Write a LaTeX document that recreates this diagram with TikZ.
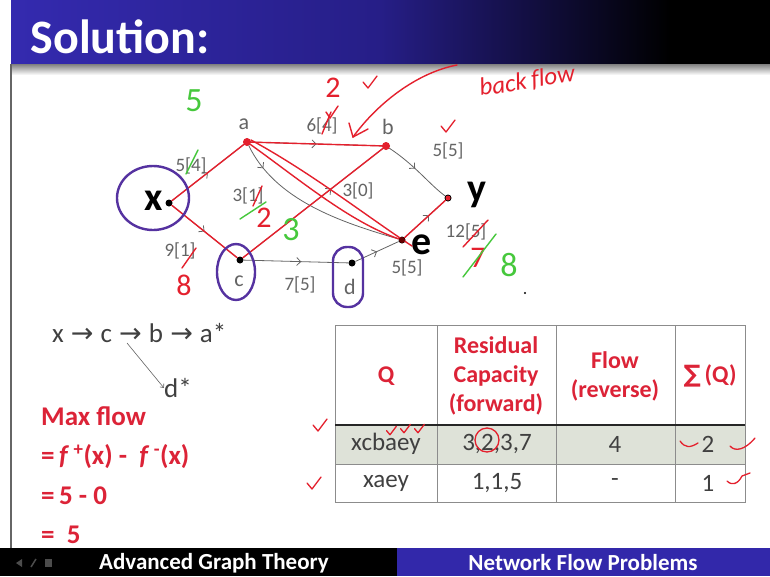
\documentclass[tikz,border=0pt]{standalone}
\usepackage{fontspec}
\setmainfont{Carlito}
\newfontfamily\symfont{DejaVu Sans}
\newfontfamily\handfont[Ligatures=NoCommon]{Carlito}
\usetikzlibrary{decorations.markings,arrows.meta,calc}
\definecolor{hblue}{RGB}{52,42,175}
\definecolor{hmid}{RGB}{38,30,135}
\definecolor{fblue}{RGB}{50,40,170}
\definecolor{ered}{RGB}{228,32,45}
\definecolor{tred}{RGB}{220,35,55}
\definecolor{egreen}{RGB}{70,200,60}
\definecolor{epurple}{RGB}{85,50,160}
\definecolor{egrey}{RGB}{100,100,100}
\definecolor{txtgrey}{RGB}{64,64,64}
\definecolor{rowbg}{RGB}{222,226,216}
\tikzset{
  vdot/.style={circle,fill=black,inner sep=0pt,minimum size=7pt},
  rdot/.style={circle,fill=ered,inner sep=0pt,minimum size=8pt},
  glabel/.style={font=\fontsize{19}{19}\selectfont, text=egrey, inner sep=0pt},
  vname/.style={font=\fontsize{22}{22}\selectfont, text=egrey, inner sep=0pt},
  bigname/.style={font=\fontsize{40}{40}\selectfont\bfseries, text=black, inner sep=0pt},
  gedge/.style={draw=egrey, line width=0.8pt, decoration={markings, mark=at position #1 with {\arrow{Straight Barb[length=4pt,width=8pt]}}}, postaction={decorate}},
  gedge/.default=0.5,
  rline/.style={draw=ered, line width=1.4pt, line cap=round},
  gline/.style={draw=egreen, line width=1.4pt, line cap=round},
  hred/.style={text=ered, font=\fontsize{30}{30}\selectfont, inner sep=0pt},
  hgreen/.style={text=egreen, font=\fontsize{34}{34}\selectfont, inner sep=0pt},
  bfl/.style={text=ered, font=\handfont\fontsize{25}{25}\selectfont\itshape, rotate=8, inner sep=0pt},
  purp/.style={draw=epurple, line width=2.4pt},
  chk/.pic={\draw[ered,line width=1.3pt,line cap=round,line join=round] (-5,-2) -- (0,4) -- (9,-8);},
  thead/.style={text=tred, font=\fontsize{24}{29}\selectfont\bfseries, align=center, inner sep=0pt},
  tcell/.style={text=txtgrey, font=\fontsize{25}{25}\selectfont, inner sep=0pt},
  redtxt/.style={text=tred, font=\fontsize{27}{27}\selectfont\bfseries, anchor=west, inner sep=0pt},
  foot/.style={text=white, font=\fontsize{23}{23}\selectfont\bfseries, inner sep=0pt}
}
\newcommand\myarr{{\symfont\fontsize{27}{27}\selectfont\hspace{1pt}→\hspace{1pt}}}
\begin{document}
\begin{tikzpicture}[x=1pt,y=-1pt]
\useasboundingbox (0,0) rectangle (770,576);
\fill[white] (0,0) rectangle (770,576);
% header
\shade[left color=hblue, right color=hmid] (11,0) rectangle (380,64);
\shade[left color=hmid, right color=black] (380,0) rectangle (670,64);
\fill[black] (670,0) rectangle (770,64);
\node[anchor=west, text=white, font=\fontsize{48}{48}\selectfont\bfseries] (title) at (27,37) {Solution:};
\shade[top color=black!50, bottom color=white] (11,64) rectangle (770,75);
\draw[black!60, line width=1.2pt] (11,64) -- (11,548);
% footer
\fill[black] (0,548) rectangle (397,576);
\fill[fblue] (397,548) rectangle (770,576);
\node[foot] (f1) at (214,563) {Advanced Graph Theory};
\node[foot] (f2) at (583,563) {Network Flow Problems};
\fill[black!70] (16,563) -- (22,559) -- (22,567) -- cycle;
\draw[black!70, line width=1.5pt] (31,567) -- (36,559);
\fill[black!70] (45,559) rectangle (52,567);

% vertices
\node[vdot] (x) at (169,203) {};
\node[vdot] (a) at (247,142) {};
\node[vdot] (b) at (386,146) {};
\node[vdot] (y) at (448,198) {};
\node[vdot] (c) at (240,260) {};
\node[vdot] (d) at (352,263) {};
\node[vdot] (e) at (402,240) {};

% grey edges
\path[gedge] (x) -- (a);
\path[gedge] (x) -- (c);
\path[gedge] (a) -- (b);
\path[gedge=0.15] (a) .. controls (275,200) and (340,222) .. (e);
\path[gedge=0.63] (c) -- (b);
\path[gedge=0.45] (b) .. controls (415,165) and (430,185) .. (y);
\path[gedge=0.55] (c) -- (d);
\path[gedge] (d) -- (e);
\path[gedge=0.6] (e) -- (y);

% vertex names
\node[bigname] (xl) at (154,201) {x};
\node[vname] (al) at (244,124) {a};
\node[vname] (bl) at (388,127) {b};
\node[bigname] (yl) at (477,195) {y};
\node[vname] (cl) at (239,281) {c};
\node[vname] (dl) at (350,287) {d};
\node[bigname] (el) at (422,245) {e};

% edge labels
\node[glabel] (lxa) at (191,166) {5[4]};
\node[glabel] (lxc) at (180,251) {9[1]};
\node[glabel] (lab) at (322,126) {6[4]};
\node[glabel] (lae) at (248,196) {3[1]};
\node[glabel] (lcb) at (358,191) {3[0]};
\node[glabel] (lby) at (448,151) {5[5]};
\node[glabel] (lcd) at (300,285) {7[5]};
\node[glabel] (lde) at (407,268) {5[5]};
\node[glabel] (ley) at (466,232) {12[5]};

% red flow overlay
\draw[rline] (x) -- (a);
\draw[rline] (x) -- (c);
\draw[rline] (a) -- (b);
\draw[rline] (c) -- (b);
\draw[rline] (a) .. controls (300,180) and (350,222) .. (e);
\draw[rline] ($(a)+(4,-2)$) .. controls (310,172) and (365,215) .. ($(e)+(10,6)$);
\draw[rline] (e) -- (y);
\node[rdot] (ra) at (a) {};
\node[rdot] (rb) at (b) {};
\node[circle,fill=ered,inner sep=0pt,minimum size=5pt] (ry) at (y) {};
\node[circle,fill=red!40!black,inner sep=0pt,minimum size=6pt] (re) at (e) {};

% purple circles
\draw[purp] (153,198) ellipse [x radius=36, y radius=32];
\draw[purp] (236,272) ellipse [x radius=19, y radius=28];
\draw[purp, rounded corners=14] (333,247) rectangle (363,307);

% annotations
\node[hgreen] (g5) at (194,101) {5};
\draw[gline] (186,174) -- (198,150);
\node[hred] (r2a) at (333,88) {2};
\draw[rline] (322,134) -- (331,112);
\draw[rline] (326,112) -- (330,118) -- (338,106);
\pic at (368,84) {chk};
\draw[rline] (457,65) .. controls (420,72) and (380,100) .. (353,137);
\draw[rline] (349,123) -- (353,137) -- (368,129);
\node[bfl] (bf1) at (503,84) {back};
\node[bfl] (bf2) at (553,77) {flow};
\pic at (446,128) {chk};
\draw[rline] (253,206) -- (262,186);
\draw[gline] (240,219) -- (266,202);
\node[hred] (r2b) at (264,218) {2};
\node[hgreen] (g3) at (291,230) {3};
\draw[rline] (182,268) -- (196,248);
\node[hred] (r8) at (184,285) {8};
\draw[rline] (463,247) -- (488,220);
\node[hred] (r7) at (478,258) {7};
\draw[gline] (463,277) -- (496,234);
\node[hgreen] (g8) at (509,265) {8};
\fill[black] (525,293) circle (1.2);

% path text
\node[anchor=west, text=txtgrey, font=\fontsize{27}{27}\selectfont, inner sep=0pt] (pth) at (52,333)
  {x \myarr{} c \myarr{} b \myarr{} a*};
\coordinate (ps) at (127,343);
\node[text=txtgrey, font=\fontsize{27}{27}\selectfont, inner sep=0pt] (dstar) at (178,388) {d*};
\draw[egrey, line width=0.6pt, -{Straight Barb[length=3pt,width=5pt]}] (ps) -- (dstar.west);

\node[redtxt] (mf) at (41,416) {Max flow};
\node[redtxt] (m1) at (41,457) {=\,\textit{f}\,\textsuperscript{+}(x) - \ \textit{f}\,\textsuperscript{-}(x)};
\node[redtxt] (m2) at (41,496) {=\,5 - 0};
\node[redtxt] (m3) at (41,535) {=\ \ 5};

% table
\fill[rowbg] (335,425) rectangle (745,464);
\draw[black!45, line width=0.8pt] (335,325) rectangle (745,502);
\draw[black!45, line width=0.8pt] (335,464) -- (745,464);
\foreach \cx in {437,556,675} \draw[black!45, line width=0.8pt] (\cx,325) -- (\cx,502);
\draw[black!85, line width=2pt] (335,425) -- (745,425);
\node[thead] (h1) at (386,376) {Q};
\node[thead] (h2) at (496,376) {Residual\\Capacity\\(forward)};
\node[thead] (h3) at (615,376) {Flow\\(reverse)};
\node[thead] (h4) at (710,376) {{\symfont ∑}\,(Q)};
\node[tcell] (c11) at (386,444) {xcbaey};
\node[tcell] (c12) at (497,444) {3,2,3,7};
\node[tcell] (c13) at (615,444) {4};
\node[tcell] (c14) at (708,444) {2};
\node[tcell] (c21) at (386,483) {xaey};
\node[tcell] (c22) at (497,483) {1,1,5};
\node[tcell] (c23) at (615,483) {-};
\node[tcell] (c24) at (708,483) {1};
\draw[ered, line width=1.3pt] (487,440) circle (12);
\pic at (318,427) {chk};
\pic at (312,485) {chk};
\pic[scale=0.7] at (390,432) {chk};
\pic[scale=0.7] at (404,430) {chk};
\pic[scale=0.7] at (418,430) {chk};
\draw[ered, line width=1.3pt, line cap=round] (680,441) .. controls (685,448) and (690,448) .. (698,443);
\draw[ered, line width=1.3pt, line cap=round] (730,446) .. controls (735,452) and (745,450) .. (755,438);
\draw[ered, line width=1.3pt, line cap=round] (727,481) .. controls (732,486) and (738,484) .. (742,476) -- (750,473);
\end{tikzpicture}
\end{document}
